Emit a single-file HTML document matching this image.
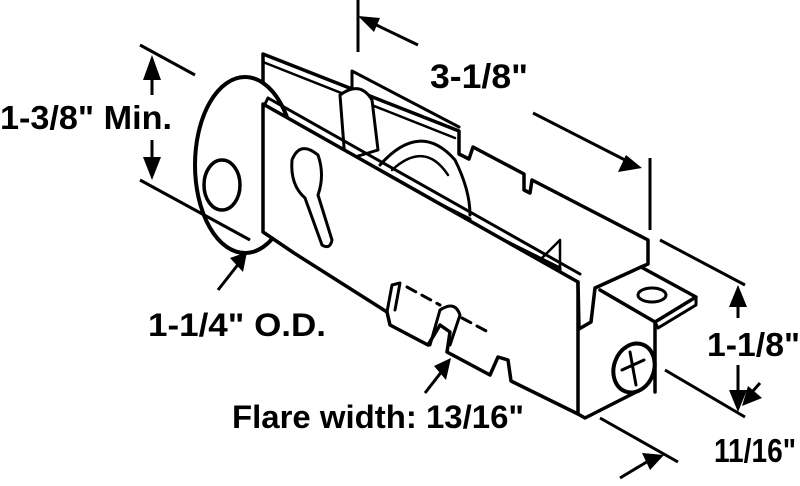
<!DOCTYPE html>
<html><head><meta charset="utf-8"><style>
html,body{margin:0;padding:0;background:#fff;}
svg{display:block;}
text{font-family:"Liberation Sans Narrow","Liberation Sans",sans-serif;font-weight:bold;fill:#000;}
</style></head><body>
<svg width="800" height="486" viewBox="0 0 800 486" xmlns="http://www.w3.org/2000/svg">
<g stroke="#000" stroke-width="3.5" fill="none" stroke-linejoin="round" stroke-linecap="round">
<polyline points="263,104 263,54 459,131 459,154 469,159 473,147 524,174 524,190 530,193 532,180 648,240 648,264 641,267"/>
<polyline points="263,62 455,138" stroke-width="2.5"/>
<polyline points="352,110 352,71 459,127" stroke-width="3"/>
<ellipse cx="245" cy="165" rx="50" ry="88" fill="#fff" stroke-width="4"/>
<ellipse cx="222" cy="185" rx="18" ry="25" fill="#fff"/>
<path d="M340,95 Q360,80 372,100 L378,150 L345,160 Z" fill="#fff" stroke-width="3"/>
<path d="M380,165 Q420,120 455,160 Q470,190 470,215" stroke-width="3"/>
<path d="M392,170 Q425,140 448,175" stroke-width="2.5"/>
<polyline points="380,172 380,190 392,195 392,180 470,219 470,240 480,245 480,228 560,268 560,290" stroke-width="3"/>
<polyline points="530,270 560,240 560,268" stroke-width="2.5"/>
<path d="M263,104 L578,282 L578,414 L511,381 L508,360 L498,357 L490,375 L447,352 L450,332 L440,325 L428,345 L390,325 L387,312 L294,253 L263,232 Z" fill="#fff"/>
<polyline points="263,108 268,98 580,274" stroke-width="3"/>
<polyline points="578,282 579,329 591,322 595,288 641,267 696,297 655,322 600,290" fill="#fff"/>
<polyline points="696,297 696,305 658,328 655,322" stroke-width="3"/>
<ellipse cx="652" cy="295" rx="14" ry="7" stroke-width="3"/>
<line x1="655" y1="322" x2="655" y2="392"/>
<polyline points="578,414 585,418 640,390"/>
<ellipse cx="634" cy="368" rx="20" ry="25" fill="#fff" transform="rotate(20 634 368)" stroke-width="4"/>
<path d="M630,352 L636,385 M622,370 L644,360" stroke-width="3"/>
<path d="M292,160 Q300,140 318,155 Q325,175 318,195 L332,240 Q330,250 322,245 L305,198 Q290,185 292,160 Z" fill="#fff" stroke-width="3"/>
<path d="M387,312 L392,285 L400,283 L395,310" stroke-width="3"/>
<path d="M430,345 L440,310 Q455,300 460,315 L450,345" stroke-width="3"/>
<line x1="407" y1="287" x2="440" y2="305" stroke-dasharray="10 7" stroke-width="3"/>
<line x1="462" y1="318" x2="490" y2="333" stroke-dasharray="10 7" stroke-width="3"/>
</g>
<g stroke="#000" stroke-width="3" fill="none">
<line x1="358" y1="0" x2="358" y2="52"/>
<line x1="368" y1="21" x2="418" y2="45"/>
<line x1="533" y1="113" x2="625" y2="160"/>
<line x1="650" y1="158" x2="650" y2="230"/>
<line x1="140" y1="45" x2="195" y2="75"/>
<line x1="140" y1="180" x2="250" y2="240"/>
<line x1="152" y1="68" x2="152" y2="95"/>
<line x1="152" y1="140" x2="152" y2="170"/>
<line x1="218" y1="290" x2="240" y2="262"/>
<line x1="425" y1="393" x2="446" y2="366"/>
<line x1="660" y1="240" x2="745" y2="285"/>
<line x1="665" y1="370" x2="745" y2="417"/>
<line x1="738" y1="300" x2="738" y2="318"/>
<line x1="738" y1="365" x2="738" y2="400"/>
<line x1="760" y1="383" x2="745" y2="400"/>
<line x1="600" y1="418" x2="678" y2="462"/>
<line x1="620" y1="478" x2="650" y2="460"/>
</g>
<g fill="#000">
<polygon points="358,16 380,18 374,32"/>
<polygon points="642,168 618,172 626,155"/>
<polygon points="152,55 143,80 161,80"/>
<polygon points="152,180 143,157 161,157"/>
<polygon points="247,252 230,258 243,272"/>
<polygon points="451,358 434,366 446,380"/>
<polygon points="738,285 729,307 747,307"/>
<polygon points="738,412 729,390 747,390"/>
<polygon points="742,406 748,386 762,398"/>
<polygon points="664,455 642,453 650,470"/>
</g>
<text x="0" y="129" font-size="33" textLength="172" lengthAdjust="spacingAndGlyphs">1-3/8" Min.</text>
<text x="430" y="88" font-size="34" textLength="98" lengthAdjust="spacingAndGlyphs">3-1/8"</text>
<text x="148" y="336" font-size="32" textLength="178" lengthAdjust="spacingAndGlyphs">1-1/4" O.D.</text>
<text x="232" y="428" font-size="32" textLength="292" lengthAdjust="spacingAndGlyphs">Flare width: 13/16"</text>
<text x="707" y="356" font-size="33" textLength="93" lengthAdjust="spacingAndGlyphs">1-1/8"</text>
<text x="714" y="462" font-size="33" textLength="82" lengthAdjust="spacingAndGlyphs">11/16"</text>
</svg>
</body></html>
